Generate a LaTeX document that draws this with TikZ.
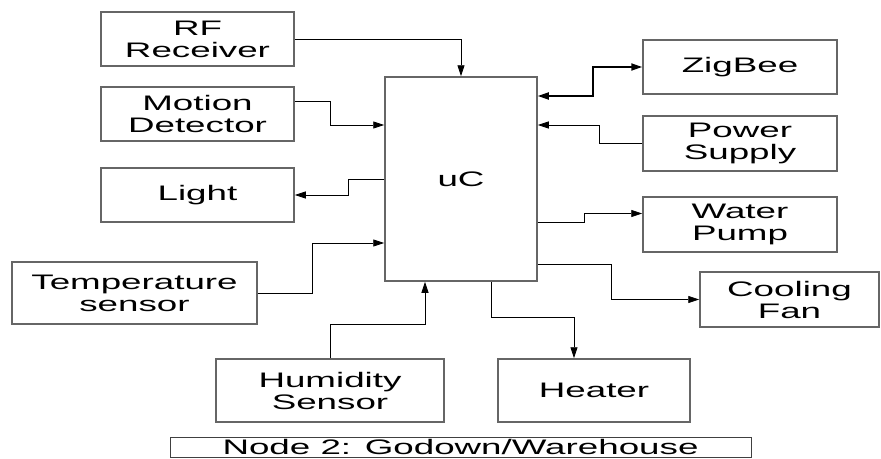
\documentclass[tikz,border=0pt]{standalone}
\usepackage{fontspec}
\setmainfont[FakeStretch=1.75]{Liberation Sans}
\usetikzlibrary{arrows.meta}
\tikzset{
  blk/.style={draw=black!60,line width=1.5pt,align=center,inner sep=0pt,
    minimum width=193pt,minimum height=54pt,font=\fontsize{21}{22}\selectfont},
  arr/.style={-{Triangle[length=11pt,width=7pt]},line width=0.8pt},
  biarr/.style={{Triangle[length=11pt,width=7pt]}-{Triangle[length=11pt,width=7pt]},line width=1.8pt},
}
\begin{document}
\begin{tikzpicture}[x=1pt,y=-1pt]
\useasboundingbox (0,0) rectangle (881,458);
\node[blk,minimum width=152pt,minimum height=204pt] (uc) at (461,179) {uC};
\node[blk] (rf) at (197.5,39) {RF\\Receiver};
\node[blk] (motion) at (197.5,114) {Motion\\Detector};
\node[blk] (light) at (197.5,195) {Light};
\node[blk,minimum width=245pt,minimum height=62pt] (temp) at (134.5,293) {Temperature\\sensor};
\node[blk,minimum width=228pt,minimum height=63pt] (humid) at (330,390.5) {Humidity\\Sensor};
\node[blk,minimum width=192pt,minimum height=63pt] (heater) at (594,390.5) {Heater};
\node[blk,minimum width=194pt] (zigbee) at (740,67) {ZigBee};
\node[blk,minimum width=194pt,minimum height=55pt] (power) at (740,143.5) {Power\\Supply};
\node[blk,minimum width=194pt,minimum height=55pt] (pump) at (740,224.5) {Water\\Pump};
\node[blk,minimum width=179pt,minimum height=55pt] (fan) at (789.5,299.5) {Cooling\\Fan};
\node[blk,line width=1pt,draw=black!75,minimum width=581pt,minimum height=20pt] (cap) at (460.5,447) {Node 2: Godown/Warehouse};

\draw[arr] (rf) -| (uc);
\draw[arr] ([yshift=13pt]motion.east) -- ++(36pt,0) |- ([yshift=54pt]uc.west);
\draw[arr] (uc.west) -- ++(-36pt,0) |- (light.east);
\draw[arr] (temp.east) -- ++(55pt,0) |- ([yshift=-64pt]uc.west);
\draw[arr] (humid.north) -- ++(0,34pt) -| ([xshift=-36pt]uc.south);
\draw[arr] ([xshift=30pt]uc.south) -- ++(0,-36pt) -| ([xshift=-20pt]heater.north);
\draw[biarr] ([yshift=83pt]uc.east) -- ++(55pt,0) |- (zigbee.west);
\draw[arr] (power.west) -- ++(-43pt,0) |- ([yshift=54pt]uc.east);
\draw[arr] ([yshift=-43pt]uc.east) -- ++(47pt,0) |- ([yshift=11pt]pump.west);
\draw[arr] ([yshift=-85pt]uc.east) -- ++(74pt,0) |- (fan.west);
\end{tikzpicture}
\end{document}
